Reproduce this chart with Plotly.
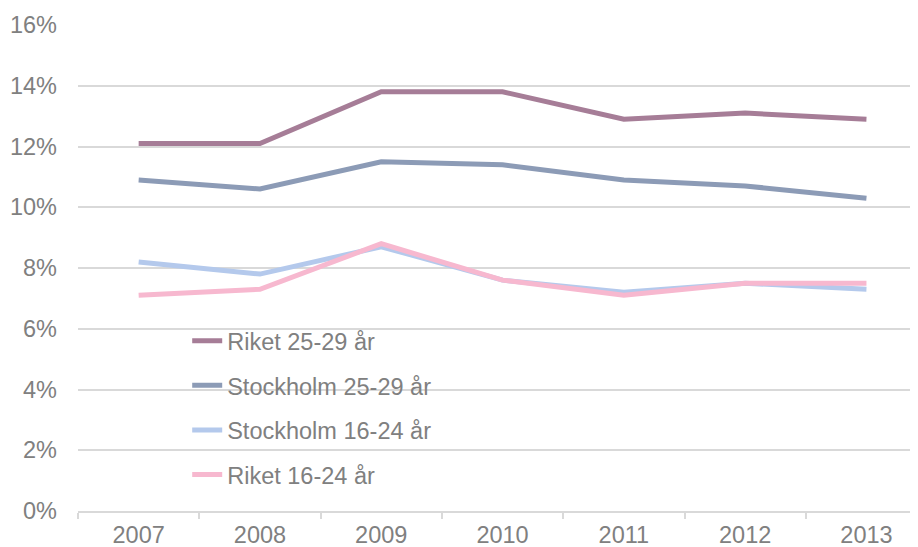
import plotly.graph_objects as go

years = ["2007", "2008", "2009", "2010", "2011", "2012", "2013"]
riket_25_29 = [12.1, 12.1, 13.8, 13.8, 12.9, 13.1, 12.9]
sthlm_25_29 = [10.9, 10.6, 11.5, 11.4, 10.9, 10.7, 10.3]
sthlm_16_24 = [8.2, 7.8, 8.7, 7.6, 7.2, 7.5, 7.3]
riket_16_24 = [7.1, 7.3, 8.8, 7.6, 7.1, 7.5, 7.5]

series = [
    ("Riket 25-29 år", riket_25_29, "#A67D97"),
    ("Stockholm 25-29 år", sthlm_25_29, "#8C9BB6"),
    ("Stockholm 16-24 år", sthlm_16_24, "#B4C9EC"),
    ("Riket 16-24 år", riket_16_24, "#F7B8CF"),
]

fig = go.Figure()
for name, vals, col in series:
    fig.add_trace(go.Scatter(
        x=years, y=[v / 100 for v in vals], name=name, mode="lines",
        line=dict(color=col, width=5), legendgroup=name,
    ))

font = dict(family="Liberation Sans, Arial, sans-serif", size=23.5, color="#808080")
fig.update_layout(
    width=910, height=539,
    margin=dict(l=70, r=0, t=17, b=36),
    paper_bgcolor="white", plot_bgcolor="white",
    font=font,
    showlegend=True,
    legend=dict(x=0.13, y=0.395, xanchor="left", yanchor="top",
                bgcolor="rgba(0,0,0,0)", tracegroupgap=11, font=font),
    xaxis=dict(type="category", range=[-0.5, 6.425], showgrid=False,
               showline=True, linecolor="#D9D9D9", linewidth=1.5,
               ticks="outside", tickson="boundaries", ticklen=6,
               tickcolor="#D9D9D9", tickwidth=1.5, tickfont=font,
               automargin=False, ticklabelstandoff=2),
    yaxis=dict(range=[0, 0.16], dtick=0.02, tickformat=".0%",
               showgrid=True, gridcolor="#D9D9D9", gridwidth=1.5,
               zeroline=False, showline=False, ticks="",
               ticklabelstandoff=20, tickfont=font, automargin=False),
)
fig.write_html("out.html")
